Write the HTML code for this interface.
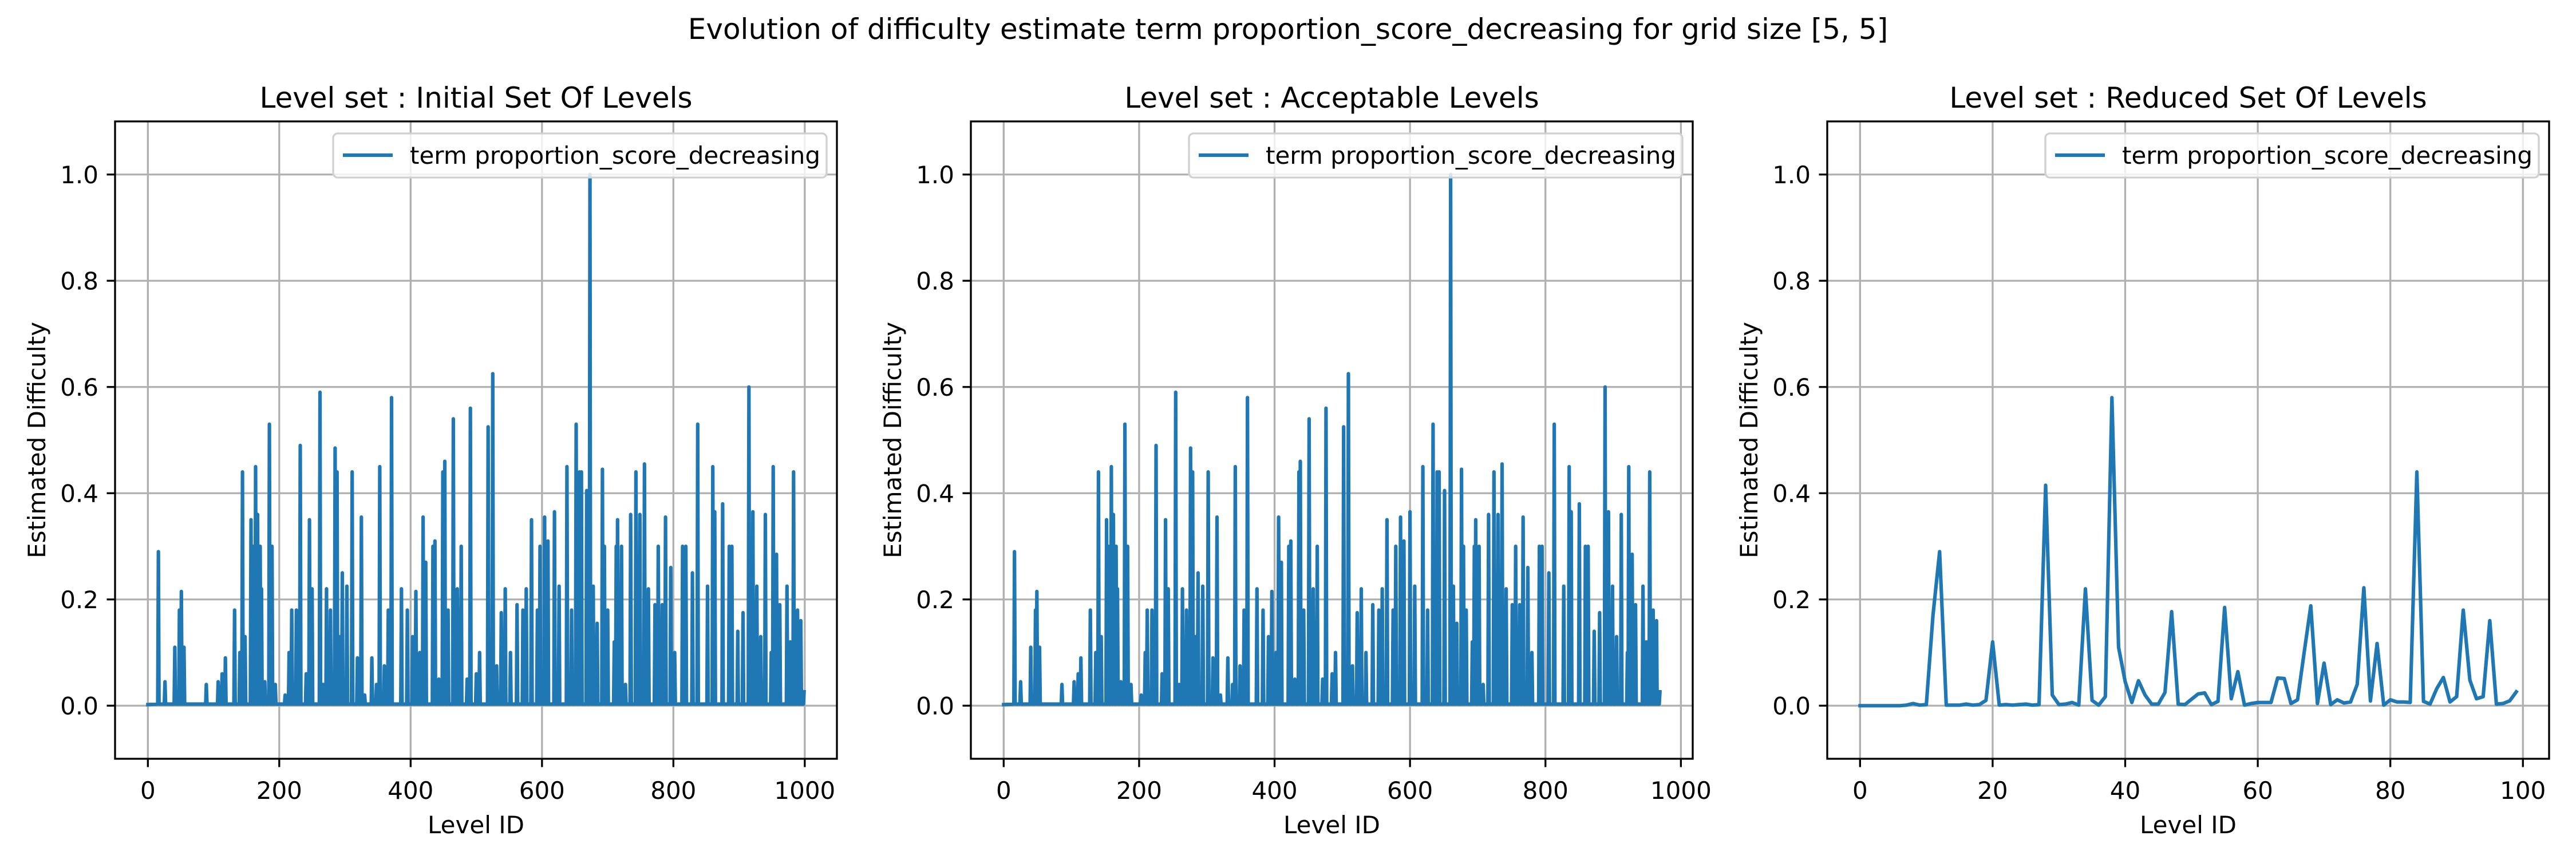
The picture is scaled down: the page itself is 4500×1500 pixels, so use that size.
<!DOCTYPE html>
<html><head><meta charset="utf-8">
<style>
html,body{margin:0;padding:0;background:#fff;}
svg{display:block;font-family:"DejaVu Sans","Liberation Sans",sans-serif;}
</style></head>
<body>
<svg id="fig" width="4500" height="1500" viewBox="0 0 4500 1500" xmlns="http://www.w3.org/2000/svg">
<rect width="4500" height="1500" fill="#fff"/>
<text x="2250" y="68" font-size="50" text-anchor="middle">Evolution of difficulty estimate term proportion_score_decreasing for grid size [5, 5]</text>
</svg>
<script>
// Panel 1 (Initial Set Of Levels) spike data
const ids1 = [16,26,41,48,51,55,89,107,113,118,132,140,144,148,157,160,164,167,171,173,178,185,189,194,209,215,219,226,232,241,246,250,262,267,272,278,285,288,292,296,303,311,319,325,330,341,348,353,360,366,371,386,395,403,408,414,419,423,434,437,443,449,452,457,465,471,477,486,491,500,505,518,525,531,538,544,552,562,571,576,584,593,597,604,609,619,626,638,645,652,657,660,668,673,678,684,692,695,700,710,713,715,721,727,735,743,749,756,762,772,777,783,788,796,802,814,819,829,837,852,860,863,875,885,889,898,906,915,921,927,933,940,949,952,957,962,973,978,983,989,994,999];
const vals1 = [0.29,0.045,0.11,0.18,0.215,0.11,0.04,0.045,0.06,0.09,0.18,0.10,0.44,0.13,0.35,0.30,0.45,0.36,0.30,0.22,0.045,0.53,0.30,0.04,0.02,0.10,0.18,0.18,0.49,0.06,0.35,0.22,0.59,0.04,0.22,0.18,0.485,0.44,0.13,0.25,0.225,0.44,0.09,0.355,0.02,0.09,0.04,0.45,0.075,0.18,0.58,0.22,0.18,0.13,0.215,0.10,0.355,0.27,0.30,0.31,0.05,0.44,0.46,0.18,0.54,0.22,0.30,0.05,0.56,0.06,0.10,0.525,0.625,0.075,0.175,0.22,0.10,0.19,0.18,0.22,0.35,0.18,0.30,0.355,0.31,0.365,0.225,0.45,0.18,0.53,0.44,0.44,0.405,1.0,0.225,0.155,0.445,0.30,0.18,0.12,0.30,0.35,0.30,0.04,0.36,0.44,0.36,0.455,0.22,0.19,0.30,0.19,0.355,0.26,0.10,0.30,0.30,0.25,0.53,0.225,0.45,0.365,0.38,0.30,0.30,0.14,0.175,0.60,0.365,0.225,0.13,0.36,0.10,0.45,0.285,0.19,0.225,0.12,0.44,0.18,0.16,0.026];
// Panel 2 (Acceptable Levels) spike data
const ids2 = [16,25,40,47,49,53,86,104,110,114,128,136,140,144,152,155,159,162,166,168,173,179,183,188,203,209,212,219,225,234,239,243,254,259,264,270,276,279,283,287,294,302,309,315,320,331,338,342,349,355,360,374,383,391,396,402,406,410,421,424,430,436,438,443,451,457,463,471,476,485,490,502,509,515,522,528,535,545,554,559,566,575,579,586,591,600,607,619,626,634,640,643,651,660,664,669,676,679,683,692,695,697,702,708,716,724,730,736,742,751,756,762,767,774,780,791,795,805,813,827,835,838,850,859,863,872,880,888,893,899,905,912,921,923,928,933,944,949,954,959,964,969];
const vals2 = [0.29,0.045,0.11,0.18,0.215,0.11,0.04,0.045,0.06,0.09,0.18,0.10,0.44,0.13,0.35,0.30,0.45,0.36,0.30,0.22,0.045,0.53,0.30,0.04,0.02,0.10,0.18,0.18,0.49,0.06,0.35,0.22,0.59,0.04,0.22,0.18,0.485,0.44,0.13,0.25,0.225,0.44,0.09,0.355,0.02,0.09,0.04,0.45,0.075,0.18,0.58,0.22,0.18,0.13,0.215,0.10,0.355,0.27,0.30,0.31,0.05,0.44,0.46,0.18,0.54,0.22,0.30,0.05,0.56,0.06,0.10,0.525,0.625,0.075,0.175,0.22,0.10,0.19,0.18,0.22,0.35,0.18,0.30,0.355,0.31,0.365,0.225,0.45,0.18,0.53,0.44,0.44,0.405,1.0,0.225,0.155,0.445,0.30,0.18,0.12,0.30,0.35,0.30,0.04,0.36,0.44,0.36,0.455,0.22,0.19,0.30,0.19,0.355,0.26,0.10,0.30,0.30,0.25,0.53,0.225,0.45,0.365,0.38,0.30,0.30,0.14,0.175,0.60,0.365,0.225,0.13,0.36,0.10,0.45,0.285,0.19,0.225,0.12,0.44,0.18,0.16,0.026];
// Panel 3 (Reduced Set Of Levels): full series, 100 levels
const vals3 = [0,0,0,0,0,0,0,0.001,0.004,0.001,0.002,0.17,0.29,0.001,0.001,0.001,0.003,0.001,0.002,0.01,0.12,0.001,0.002,0.001,0.002,0.003,0.001,0.002,0.415,0.02,0.002,0.003,0.006,0.001,0.22,0.01,0.001,0.017,0.58,0.11,0.045,0.006,0.047,0.02,0.003,0.003,0.025,0.177,0.003,0.002,0.012,0.022,0.024,0.002,0.008,0.185,0.013,0.064,0.001,0.004,0.006,0.006,0.006,0.052,0.051,0.004,0.011,0.1,0.188,0.004,0.08,0.002,0.011,0.005,0.007,0.04,0.222,0.009,0.117,0.001,0.011,0.007,0.007,0.006,0.44,0.008,0.003,0.032,0.053,0.007,0.017,0.18,0.048,0.013,0.017,0.16,0.003,0.004,0.009,0.026];
const yTicks = [0.0,0.2,0.4,0.6,0.8,1.0];
const yTickLabels = ["0.0","0.2","0.4","0.6","0.8","1.0"];
const xTicks12 = [0,200,400,600,800,1000];
const xTicks3 = [0,20,40,60,80,100];
const panelTitles = ["Level set : Initial Set Of Levels","Level set : Acceptable Levels","Level set : Reduced Set Of Levels"];

const NS = "http://www.w3.org/2000/svg";
const svg = document.getElementById('fig');
function mk(tag, attrs, parent){
  const e = document.createElementNS(NS, tag);
  for (const k in attrs) e.setAttribute(k, attrs[k]);
  (parent||svg).appendChild(e);
  return e;
}
const TOP = 212, BOT = 1325, W = 1261;
const lefts = [201, 1696, 3192];

function drawPanel(pi, xmin, xmax, xticks, pts){
  const L = lefts[pi], R = L + W;
  const g = mk('g', {});
  
  
  const xs = v => L + (v - xmin) / (xmax - xmin) * W;
  const ys = v => BOT - (v + 0.1) / 1.2 * (BOT - TOP);
  // grid
  xticks.forEach(t => {
    const l = mk('line', {x1:xs(t), x2:xs(t), y1:TOP, y2:BOT, stroke:'#b0b0b0', 'stroke-width':3.3}, g);
    
    
  });
  yTicks.forEach(t => {
    const l = mk('line', {x1:L, x2:R, y1:ys(t), y2:ys(t), stroke:'#b0b0b0', 'stroke-width':3.3}, g);
    
    
  });
  // series
  const clipId = 'clip' + pi;
  const cp = mk('clipPath', {id: clipId}, g);
  mk('rect', {x:L, y:TOP, width:W, height:BOT-TOP}, cp);
  const d = pts.map((p,i) => (i ? 'L' : 'M') + xs(p[0]).toFixed(1) + ' ' + ys(p[1]).toFixed(1)).join(' ');
  const path = mk('path', {d:d, fill:'none', stroke:'#1f77b4', 'stroke-width':6.2, 'stroke-linejoin':'round', 'stroke-linecap':'square', 'clip-path':'url(#'+clipId+')'}, g);
  
  
  // spines
  const sp = mk('rect', {x:L, y:TOP, width:W, height:BOT-TOP, fill:'none', stroke:'#000', 'stroke-width':3.3}, g);
  
  
  // ticks
  xticks.forEach(t => {
    mk('line', {x1:xs(t), x2:xs(t), y1:BOT, y2:BOT+14.5, stroke:'#000', 'stroke-width':3.3}, g);
    const tx = mk('text', {x:xs(t), y:BOT+70, 'font-size':42, 'text-anchor':'middle'}, g);
    tx.textContent = String(t);
    
    
  });
  yTicks.forEach((t,i) => {
    mk('line', {x1:L-14.5, x2:L, y1:ys(t), y2:ys(t), stroke:'#000', 'stroke-width':3.3}, g);
    const tx = mk('text', {x:L-29, y:ys(t)+15, 'font-size':42, 'text-anchor':'end'}, g);
    tx.textContent = yTickLabels[i];
    
    
  });
  // titles
  const tt = mk('text', {x:L+W/2, y:188, 'font-size':50, 'text-anchor':'middle'}, g);
  tt.textContent = panelTitles[pi];
  
  
  const xl = mk('text', {x:L+W/2, y:1455, 'font-size':42, 'text-anchor':'middle'}, g);
  xl.textContent = 'Level ID';
  
  
  const yl = mk('text', {x:0, y:0, 'font-size':42, 'text-anchor':'middle', transform:'translate('+(L-122)+','+((TOP+BOT)/2)+') rotate(-90)'}, g);
  yl.textContent = 'Estimated Difficulty';
  
  
  // legend
  const lg = mk('g', {}, g);
  
  
  const lx = R - 880;
  mk('rect', {x:lx, y:233, width:862, height:77, rx:8, fill:'#fff', 'fill-opacity':0.8, stroke:'#d0d0d0', 'stroke-width':3.3}, lg);
  mk('line', {x1:lx+17, x2:lx+104, y1:271, y2:271, stroke:'#1f77b4', 'stroke-width':6.2}, lg);
  const lt = mk('text', {x:lx+134, y:286, 'font-size':42}, lg);
  lt.textContent = 'term proportion_score_decreasing';
  
  
}

function spikePoints(ids, vals, last){
  const pts = [[0, 0.002]];
  ids.forEach((id,i) => {
    if (id - 1 > pts[pts.length-1][0]) pts.push([id-1, 0.003]);
    pts.push([id, vals[i]]);
    if (id < last) pts.push([id+1, 0.003]);
  });
  return pts;
}
drawPanel(0, -49.95, 1048.95, xTicks12, spikePoints(ids1, vals1, 999));
drawPanel(1, -48.45, 1017.45, xTicks12, spikePoints(ids2, vals2, 969));
drawPanel(2, -4.95, 103.95, xTicks3, vals3.map((v,i) => [i, v]));
</script>
</body></html>
